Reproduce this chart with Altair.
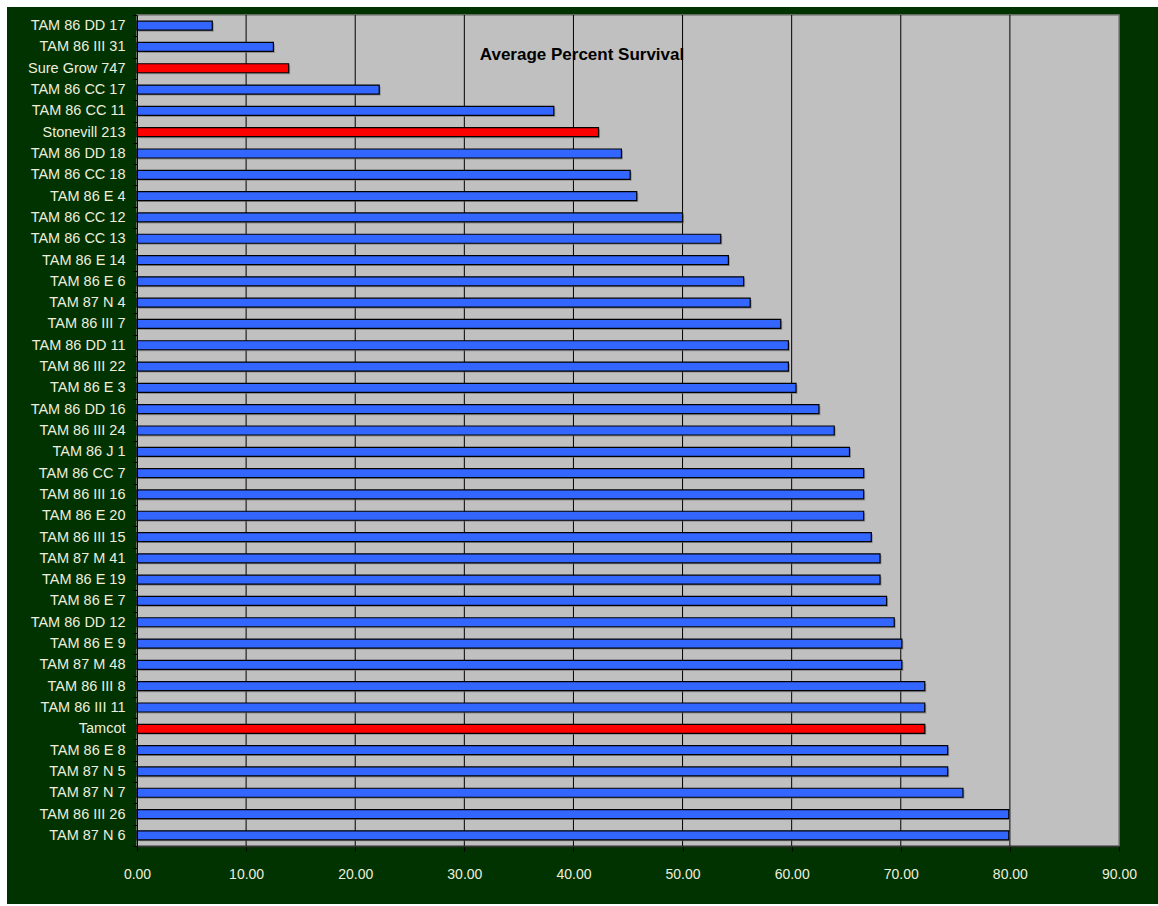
import altair as alt
import pandas as pd

varieties = [
    "TAM 86 DD 17", "TAM 86 III 31", "Sure Grow 747", "TAM 86 CC 17", "TAM 86 CC 11",
    "Stonevill 213", "TAM 86 DD 18", "TAM 86 CC 18", "TAM 86 E 4", "TAM 86 CC 12",
    "TAM 86 CC 13", "TAM 86 E 14", "TAM 86 E 6", "TAM 87 N 4", "TAM 86 III 7",
    "TAM 86 DD 11", "TAM 86 III 22", "TAM 86 E 3", "TAM 86 DD 16", "TAM 86 III 24",
    "TAM 86 J 1", "TAM 86 CC 7", "TAM 86 III 16", "TAM 86 E 20", "TAM 86 III 15",
    "TAM 87 M 41", "TAM 86 E 19", "TAM 86 E 7", "TAM 86 DD 12", "TAM 86 E 9",
    "TAM 87 M 48", "TAM 86 III 8", "TAM 86 III 11", "Tamcot", "TAM 86 E 8",
    "TAM 87 N 5", "TAM 87 N 7", "TAM 86 III 26", "TAM 87 N 6",
]
survival = [
    6.9, 12.5, 13.9, 22.2, 38.2,
    42.3, 44.4, 45.2, 45.8, 50.0,
    53.5, 54.2, 55.6, 56.2, 59.0,
    59.7, 59.7, 60.4, 62.5, 63.9,
    65.3, 66.6, 66.6, 66.6, 67.3,
    68.1, 68.1, 68.7, 69.4, 70.1,
    70.1, 72.2, 72.2, 72.2, 74.3,
    74.3, 75.7, 79.9, 79.9,
]
checks = ["Sure Grow 747", "Stonevill 213", "Tamcot"]
grid_values = [10, 20, 30, 40, 50, 60, 70, 80]
title_text = "Average Percent Survival"

df = pd.DataFrame({"variety": varieties, "survival": survival})
df["kind"] = ["check" if v in checks else "line" for v in varieties]
grid_df = pd.DataFrame({"g": grid_values})
one = pd.DataFrame({"t": [title_text]})

FONT = "Liberation Sans"
W, H = 982, 831

xscale = alt.Scale(domain=[0, 90], nice=False)
yscale = alt.Scale(domain=varieties, paddingInner=0, paddingOuter=0)

green = alt.Chart(one).mark_rect(color="#003300").encode(
    x=alt.value(-130), x2=alt.value(1030), y=alt.value(-8), y2=alt.value(889)
)
plotbg = alt.Chart(one).mark_rect(color="#C0C0C0", stroke="#808080", strokeWidth=1.5).encode(
    x=alt.value(0), x2=alt.value(W), y=alt.value(0), y2=alt.value(H)
)
grid = alt.Chart(grid_df).mark_rule(color="#000000", strokeWidth=1).encode(
    x=alt.X("g:Q", scale=xscale),
    y=alt.value(0), y2=alt.value(H),
)
shadow = alt.Chart(df).mark_bar(size=9, color="#707070", opacity=0.6, xOffset=1.5, yOffset=1.5).encode(
    x=alt.X("survival:Q", scale=xscale),
    y=alt.Y("variety:N", scale=yscale, sort=varieties),
)
bars = alt.Chart(df).mark_bar(size=9, stroke="#000000", strokeWidth=1.2).encode(
    x=alt.X(
        "survival:Q", scale=xscale, title=None,
        axis=alt.Axis(values=[0, 10, 20, 30, 40, 50, 60, 70, 80, 90], format=".2f",
                      grid=False, zindex=2, domainColor="#333333", domainWidth=1.5,
                      tickColor="#000000", tickSize=5, labelPadding=16, labelFlush=False,
                      labelColor="#EEEEDD", labelFont=FONT, labelFontSize=14),
    ),
    y=alt.Y(
        "variety:N", scale=yscale, sort=varieties, title=None,
        axis=alt.Axis(grid=False, zindex=2, tickBand="extent", domainColor="#000000",
                      tickColor="#000000", tickSize=4, labelPadding=8,
                      labelColor="#EEEEDD", labelFont=FONT, labelFontSize=14.5),
    ),
    color=alt.Color("kind:N", scale=alt.Scale(domain=["line", "check"], range=["#3366FF", "#FF0000"]),
                    legend=None),
)
title = alt.Chart(one).mark_text(
    font=FONT, fontSize=17, fontWeight="bold",
    color="#000000", align="center", baseline="alphabetic",
).encode(text="t:N", x=alt.value(445), y=alt.value(45))

chart = alt.layer(green, plotbg, grid, shadow, bars, title).properties(
    width=W, height=H,
    autosize=alt.AutoSizeParams(type="none"),
    padding={"left": 137, "top": 15, "right": 39, "bottom": 60},
    background="#FFFFFF",
).configure_view(strokeWidth=0)

chart.save("out.html", embed_options={"renderer": "svg", "actions": False})
